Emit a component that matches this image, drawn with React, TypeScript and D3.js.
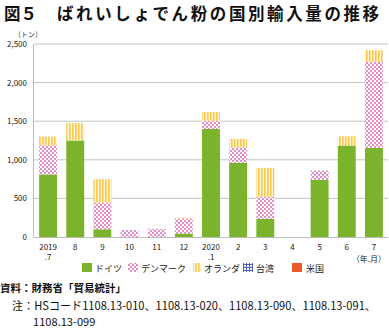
import React from "react";
import * as d3 from "d3";

const categories = ["2019.7", "8", "9", "10", "11", "12", "2020.1", "2", "3", "4", "5", "6", "7"];
const xLabelLine1 = ["2019", "8", "9", "10", "11", "12", "2020", "2", "3", "4", "5", "6", "7"];
const xLabelLine2 = [".7", "", "", "", "", "", ".1", "", "", "", "", "", ""];
const germany = [810, 1250, 100, 0, 0, 45, 1400, 960, 235, 0, 740, 1185, 1155];
const denmark = [380, 0, 345, 90, 105, 195, 105, 200, 285, 0, 120, 0, 1115];
const netherlands = [110, 225, 305, 0, 0, 10, 115, 110, 375, 0, 0, 120, 150];
const taiwan = [0, 0, 0, 0, 0, 0, 0, 0, 0, 0, 0, 0, 0];
const usa = [0, 0, 0, 0, 0, 0, 0, 0, 0, 0, 0, 0, 0];
const seriesNames = ["ドイツ", "デンマーク", "オランダ", "台湾", "米国"];
const yTicks = [0, 500, 1000, 1500, 2000, 2500];

const W = 389;
const H = 331;
const FONT = "'Noto Sans CJK JP', 'Noto Sans', sans-serif";

export default function App() {
  const x = d3.scaleBand<string>().domain(categories).range([34.5, 387.5]).paddingInner(0.34).paddingOuter(0.17);
  const y = d3.scaleLinear().domain([0, 2500]).range([237, 44]);

  const seriesData = [germany, denmark, netherlands, taiwan, usa];
  const fills = ["#7cb32c", "url(#pinkPat)", "url(#yellowPat)", "url(#bluePat)", "#ec5a2a"];
  const table = categories.map((c, i) => {
    const o: any = { cat: c };
    seriesNames.forEach((s, k) => (o[s] = seriesData[k][i]));
    return o;
  });
  const stack = d3.stack<any>().keys(seriesNames)(table);

  const legendX = [82, 128, 193, 243, 292];
  const legendTextX = [95, 141, 204, 256, 306];

  return (
    <svg width={W} height={H} style={{ position: "absolute", left: 0, top: 0, background: "#fff" }} fontFamily={FONT}>
      <defs>
        <pattern id="pinkPat" width="4" height="4" patternUnits="userSpaceOnUse">
          <rect width="4" height="4" fill="#fff" />
          <rect x="0" y="0" width="2" height="2" fill="#e58ccb" />
          <rect x="2" y="2" width="2" height="2" fill="#e58ccb" />
        </pattern>
        <pattern id="yellowPat" width="3" height="3" patternUnits="userSpaceOnUse">
          <rect width="3" height="3" fill="#fff6dc" />
          <rect x="0" y="0" width="1.6" height="3" fill="#fbc84a" />
        </pattern>
        <pattern id="bluePat" width="3" height="3" patternUnits="userSpaceOnUse">
          <rect width="3" height="3" fill="#fff" />
          <rect x="0" y="0" width="1" height="3" fill="#4a5fb8" />
          <rect x="0" y="0" width="3" height="1" fill="#4a5fb8" />
        </pattern>
      </defs>

      <text x={4} y={20} fontSize={16.5} fontWeight="bold" fill="#111">図５</text>
      <text x={57} y={20} fontSize={16.5} fontWeight="bold" fill="#111" letterSpacing={2.6}>ばれいしょでん粉の国別輸入量の推移</text>

      <text x={14} y={37} fontSize={7} fill="#333">（トン）</text>

      {yTicks.map((t) => (
        <g key={t}>
          {t > 0 && <line x1={34} x2={388} y1={y(t)} y2={y(t)} stroke="#c4c4c4" strokeWidth={1} />}
          <text x={27} y={y(t) + 3} fontSize={8} textAnchor="end" fill="#222">{d3.format(",")(t)}</text>
        </g>
      ))}
      <line x1={33.5} x2={33.5} y1={44} y2={237} stroke="#bdbdbd" strokeWidth={1} />

      {stack.map((layer, k) => (
        <g key={layer.key}>
          {layer.map((d, i) => {
            const h = y(d[0]) - y(d[1]);
            if (h <= 0) return null;
            return (
              <rect key={i} x={x(categories[i])} width={x.bandwidth()} y={y(d[1])} height={h} fill={fills[k]} />
            );
          })}
        </g>
      ))}
      <line x1={34} x2={388} y1={237.5} y2={237.5} stroke="#bdbdbd" strokeWidth={1} />

      {categories.map((c, i) => (
        <g key={c}>
          <text x={(x(c) as number) + x.bandwidth() / 2} y={250} fontSize={8} textAnchor="middle" fill="#222">{xLabelLine1[i]}</text>
          {xLabelLine2[i] && (
            <text x={(x(c) as number) + x.bandwidth() / 2} y={260} fontSize={8} textAnchor="middle" fill="#222">{xLabelLine2[i]}</text>
          )}
        </g>
      ))}
      <text x={386} y={262} fontSize={8} textAnchor="end" fill="#222">（年.月）</text>

      {seriesNames.map((s, k) => (
        <g key={s}>
          <rect x={legendX[k]} y={263} width={k === 2 ? 8 : 10} height={9} fill={fills[k]} />
          <text x={legendTextX[k]} y={271.5} fontSize={9} fill="#222">{s}</text>
        </g>
      ))}

      <text x={0} y={292} fontSize={10.5} fontWeight="bold" fill="#111">資料：財務省「貿易統計」</text>
      <text x={12} y={310} fontSize={11.1} fill="#111">注：HSコード1108.13-010、1108.13-020、1108.13-090、1108.13-091、</text>
      <text x={33} y={326} fontSize={11.1} fill="#111">1108.13-099</text>
    </svg>
  );
}
